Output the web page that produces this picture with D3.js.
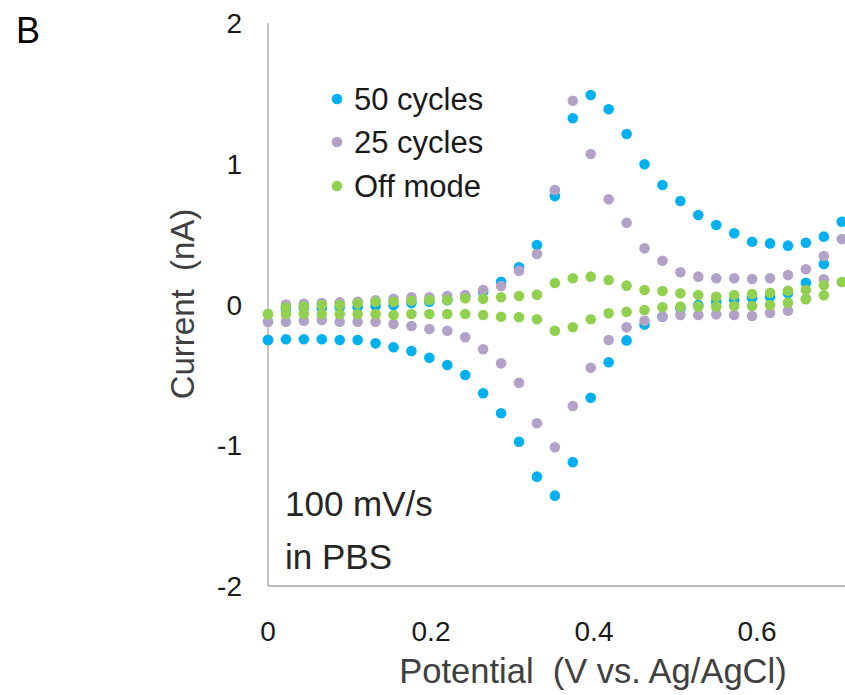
<!DOCTYPE html>
<html>
<head>
<meta charset="utf-8">
<script src="https://cdn.jsdelivr.net/npm/d3@7"></script>
<style>
  body { margin: 0; background: #fff; }
  svg { display: block; }
</style>
</head>
<body>
<svg id="chart"></svg>
<script>
const potentials = [0, 0.022, 0.044, 0.066, 0.088, 0.110, 0.132, 0.154, 0.176, 0.198, 0.220, 0.242,
    0.264, 0.286, 0.308, 0.330, 0.352, 0.374, 0.396, 0.418, 0.440, 0.462, 0.484, 0.506, 0.528, 0.550,
    0.572, 0.594, 0.616, 0.638, 0.660, 0.682, 0.704]

// current (nA), upper branch, one value per potential
const upper50 = [-0.252, -0.03, -0.025, -0.025, -0.02, -0.02, -0.01, -0.005, 0.01, 0.02, 0.03, 0.06,
    0.09, 0.162, 0.264, 0.423, 0.77, 1.323, 1.488, 1.387, 1.211, 0.996, 0.849, 0.735, 0.636, 0.565,
    0.506, 0.446, 0.434, 0.418, 0.439, 0.482, 0.588]
const upper25 = [-0.122, 0.0, 0.005, 0.01, 0.015, 0.02, 0.03, 0.04, 0.051, 0.051, 0.06, 0.067,
    0.103, 0.131, 0.24, 0.359, 0.813, 1.448, 1.069, 0.747, 0.581, 0.399, 0.311, 0.229, 0.198, 0.186,
    0.186, 0.181, 0.186, 0.21, 0.25, 0.345, 0.465]
const upperOff = [-0.07, -0.02, -0.015, -0.004, -0.004, 0.008, 0.02, 0.02, 0.027, 0.032, 0.032, 0.044,
    0.04, 0.051, 0.06, 0.07, 0.153, 0.186, 0.198, 0.174, 0.134, 0.103, 0.096, 0.08, 0.067, 0.055,
    0.067, 0.075, 0.084, 0.098, 0.103, 0.136, 0.16]

// current (nA), lower branch, potentials 0 .. 0.682
const lower50 = [-0.252, -0.247, -0.247, -0.247, -0.252, -0.252, -0.276, -0.304, -0.33, -0.378, -0.43, -0.501,
    -0.631, -0.773, -0.975, -1.223, -1.358, -1.12, -0.662, -0.41, -0.255, -0.143, -0.087, -0.027, -0.004, 0.02,
    0.032, 0.044, 0.055, 0.08, 0.155, 0.288]
const lower25 = [-0.122, -0.122, -0.115, -0.11, -0.122, -0.122, -0.122, -0.139, -0.153, -0.174, -0.186, -0.233,
    -0.318, -0.418, -0.556, -0.844, -1.015, -0.721, -0.449, -0.252, -0.162, -0.116, -0.087, -0.075, -0.075, -0.07,
    -0.075, -0.082, -0.06, -0.044, 0.04, 0.179]
const lowerOff = [-0.067, -0.067, -0.067, -0.067, -0.067, -0.067, -0.067, -0.075, -0.067, -0.067, -0.067, -0.067,
    -0.075, -0.087, -0.09, -0.105, -0.186, -0.162, -0.105, -0.063, -0.051, -0.039, -0.02, -0.015, -0.015, -0.015,
    -0.011, -0.011, -0.004, 0.013, 0.037, 0.065]

const seriesNames = ["50 cycles", "25 cycles", "Off mode"]
const seriesColors = ["#00b0f0", "#b3a2c7", "#92d050"]
const xTicks = [0, 0.2, 0.4, 0.6]
const yTicks = [-2, -1, 0, 1, 2]

const W = 845, H = 695
const font = "'Liberation Sans', Arial, Helvetica, sans-serif"

const svg = d3.select("#chart").attr("width", W).attr("height", H)
svg.append("rect").attr("width", W).attr("height", H).attr("fill", "#fff")

const x = d3.scaleLinear().domain([0, 0.8]).range([268, 268 + 0.8 * 815])
const y = d3.scaleLinear().domain([-2, 2]).range([586, 23])

// axis lines
svg.append("line")
    .attr("x1", x(0)).attr("x2", x(0))
    .attr("y1", y(2)).attr("y2", y(-2))
    .style("stroke", "#a6a6a6").style("stroke-width", 1.3)
svg.append("line")
    .attr("x1", x(0)).attr("x2", W)
    .attr("y1", y(-2)).attr("y2", y(-2))
    .style("stroke", "#a6a6a6").style("stroke-width", 1.3)

// tick labels
svg.selectAll("text.ytick").data(yTicks).join("text")
    .attr("class", "ytick")
    .attr("x", 242).attr("y", d => y(d) + 10)
    .attr("text-anchor", "end")
    .style("font-family", font).style("font-size", "28px").style("fill", "#1a1a1a")
    .text(d => d)
svg.selectAll("text.xtick").data(xTicks).join("text")
    .attr("class", "xtick")
    .attr("x", d => x(d)).attr("y", 641)
    .attr("text-anchor", "middle")
    .style("font-family", font).style("font-size", "28px").style("fill", "#1a1a1a")
    .text(d => d)

// axis titles
svg.append("text")
    .attr("x", 593).attr("y", 683)
    .attr("text-anchor", "middle")
    .style("font-family", font).style("font-size", "34.5px").style("fill", "#404040")
    .style("white-space", "pre")
    .text("Potential  (V vs. Ag/AgCl)")
svg.append("text")
    .attr("transform", "translate(194,304) rotate(-90)")
    .attr("text-anchor", "middle")
    .style("font-family", font).style("font-size", "33px").style("fill", "#404040")
    .style("white-space", "pre")
    .text("Current  (nA)")

// panel letter
svg.append("text")
    .attr("x", 16).attr("y", 43)
    .style("font-family", font).style("font-size", "36px").style("fill", "#000")
    .text("B")

// data points
const seriesData = [
    { upper: upper50, lower: lower50 },
    { upper: upper25, lower: lower25 },
    { upper: upperOff, lower: lowerOff }
]
seriesData.forEach((s, k) => {
    const pts = s.upper.map((v, i) => [potentials[i], v])
        .concat(s.lower.map((v, i) => [potentials[i], v]))
    svg.append("g").selectAll("circle").data(pts).join("circle")
        .attr("cx", d => x(d[0])).attr("cy", d => y(d[1]))
        .attr("r", 5.3)
        .attr("fill", seriesColors[k])
})

// legend
const legend = svg.append("g")
seriesNames.forEach((name, k) => {
    const yy = [99, 142, 186][k]
    legend.append("circle").attr("cx", 337).attr("cy", yy).attr("r", 5.3).attr("fill", seriesColors[k])
    legend.append("text")
        .attr("x", 354).attr("y", yy + 10.5)
        .style("font-family", font).style("font-size", "31px").style("fill", "#1a1a1a")
        .text(name)
})

// annotation
const note = svg.append("text")
    .style("font-family", font).style("font-size", "35px").style("fill", "#262626")
note.append("tspan").attr("x", 285).attr("y", 516).text("100 mV/s")
note.append("tspan").attr("x", 285).attr("y", 569).text("in PBS")
</script>
</body>
</html>
